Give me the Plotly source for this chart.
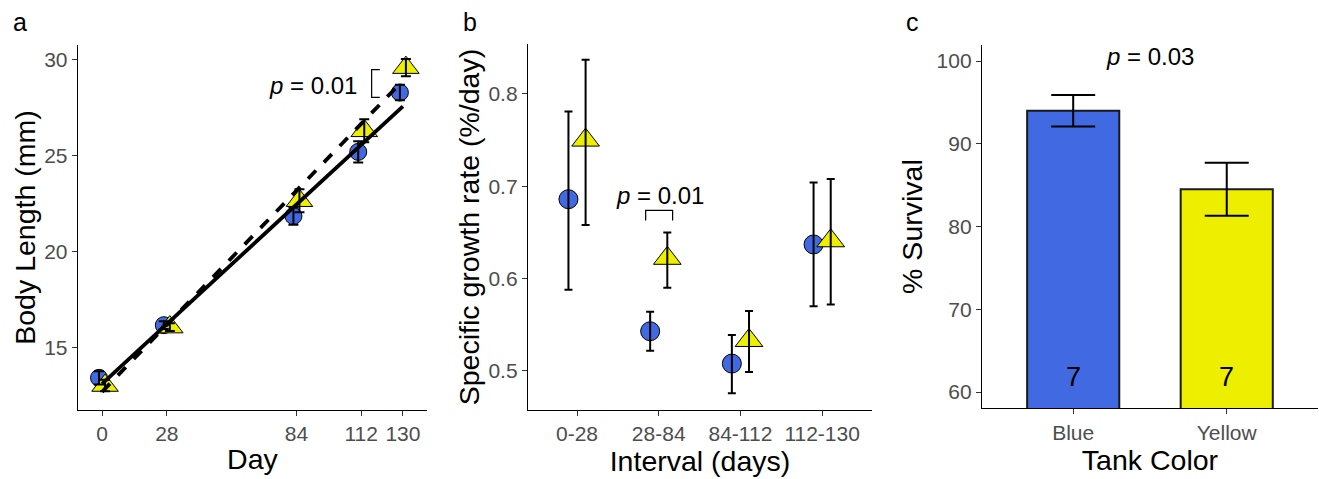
import numpy as np
import plotly.graph_objects as go

# ---------------- data ----------------
# Panel a: body length over time
days = [0, 28, 84, 112, 130]
blue_len = [13.4, 16.15, 21.85, 25.2, 28.3]
blue_len_se = [0.35, 0.2, 0.45, 0.55, 0.4]
yellow_len = [13.0, 16.05, 22.65, 26.3, 29.6]
yellow_len_se = [0.3, 0.2, 0.6, 0.6, 0.45]

# Panel b: specific growth rate per interval
intervals = ["0-28", "28-84", "84-112", "112-130"]
blue_sgr = [0.686, 0.543, 0.508, 0.637]
blue_sgr_lo = [0.588, 0.522, 0.476, 0.570]
blue_sgr_hi = [0.781, 0.564, 0.539, 0.704]
yellow_sgr = [0.750, 0.622, 0.533, 0.641]
yellow_sgr_lo = [0.658, 0.590, 0.499, 0.572]
yellow_sgr_hi = [0.837, 0.650, 0.565, 0.708]

# Panel c: survival
tank_colors = ["Blue", "Yellow"]
survival = [94.0, 84.5]
survival_se = [1.9, 3.2]
n_tanks = [7, 7]

# significance annotations
p_a, p_b, p_c = "0.01", "0.01", "0.03"

BLUE = "#4169E1"
YELLOW = "#EEEE00"
TICK_COL = "#4D4D4D"
FONT = "Liberation Sans, Arial, sans-serif"

fig = go.Figure()

# ---------------- panel a ----------------
dodge_a = 1.3
xb = [d - dodge_a for d in days]
xy = [d + dodge_a for d in days]
fig.add_trace(go.Scatter(x=xb, y=blue_len, mode="markers", xaxis="x", yaxis="y",
                         marker=dict(symbol="circle", size=17, color=BLUE,
                                     line=dict(color="black", width=1)), showlegend=False))
fig.add_trace(go.Scatter(x=xy, y=yellow_len, mode="markers", xaxis="x", yaxis="y",
                         marker=dict(symbol="triangle-up", size=23, color=YELLOW,
                                     line=dict(color="black", width=1)), showlegend=False))
for xs, ys, se in [(xb, blue_len, blue_len_se), (xy, yellow_len, yellow_len_se)]:
    fig.add_trace(go.Scatter(x=xs, y=ys, mode="markers", xaxis="x", yaxis="y",
                             marker=dict(color="rgba(0,0,0,0)", size=1),
                             error_y=dict(type="data", array=se, color="black",
                                          thickness=2, width=5), showlegend=False))
# linear fits
fit_x = np.array([min(days), max(days)])
bfit = np.polyfit(days, blue_len, 1)
yfit = np.polyfit(days, yellow_len, 1)
fig.add_trace(go.Scatter(x=fit_x, y=np.polyval(bfit, fit_x), mode="lines", xaxis="x", yaxis="y",
                         line=dict(color="black", width=3.8), showlegend=False))
fig.add_trace(go.Scatter(x=fit_x, y=np.polyval(yfit, fit_x), mode="lines", xaxis="x", yaxis="y",
                         line=dict(color="black", width=3.8, dash="dash"), showlegend=False))

# ---------------- panel b ----------------
dodge_b = 0.105
pos = np.arange(1, len(intervals) + 1)
bx = pos - dodge_b
yx = pos + dodge_b
fig.add_trace(go.Scatter(x=bx, y=blue_sgr, mode="markers", xaxis="x2", yaxis="y2",
                         marker=dict(symbol="circle", size=19, color=BLUE,
                                     line=dict(color="black", width=1)), showlegend=False))
fig.add_trace(go.Scatter(x=yx, y=yellow_sgr, mode="markers", xaxis="x2", yaxis="y2",
                         marker=dict(symbol="triangle-up", size=24, color=YELLOW,
                                     line=dict(color="black", width=1)), showlegend=False))
for xs, ys, lo, hi in [(bx, blue_sgr, blue_sgr_lo, blue_sgr_hi),
                       (yx, yellow_sgr, yellow_sgr_lo, yellow_sgr_hi)]:
    fig.add_trace(go.Scatter(x=xs, y=ys, mode="markers", xaxis="x2", yaxis="y2",
                             marker=dict(color="rgba(0,0,0,0)", size=1),
                             error_y=dict(type="data", symmetric=False,
                                          array=[h - v for h, v in zip(hi, ys)],
                                          arrayminus=[v - l for l, v in zip(lo, ys)],
                                          color="black", thickness=2, width=4),
                             showlegend=False))

# ---------------- panel c ----------------
cpos = [1, 2]
fig.add_trace(go.Bar(x=cpos, y=survival, width=0.6, xaxis="x3", yaxis="y3",
                     marker=dict(color=[BLUE, YELLOW], line=dict(color="#1a1a1a", width=2)),
                     showlegend=False))
fig.add_trace(go.Scatter(x=cpos, y=survival, mode="markers", xaxis="x3", yaxis="y3",
                         marker=dict(color="rgba(0,0,0,0)", size=1),
                         error_y=dict(type="data", array=survival_se, color="black",
                                      thickness=2, width=22), showlegend=False))

# ---------------- axes ----------------
def ax(domain, **kw):
    d = dict(domain=domain, showline=True, linecolor="black", linewidth=1.4,
             ticks="outside", ticklen=5, tickwidth=1.2, tickcolor="#333333",
             showgrid=False, zeroline=False, automargin=False,
             tickfont=dict(size=21, color=TICK_COL, family=FONT))
    d.update(kw)
    return d

title_font = dict(size=28.5, color="black", family=FONT)
fig.update_layout(
    xaxis=ax([0.0591, 0.3237], range=[-10.4, 140.4], tickvals=days, anchor="y",
             title=dict(text="Day", font=title_font, standoff=4)),
    yaxis=ax([0.144, 0.906], range=[11.72, 30.78], tickvals=[15, 20, 25, 30], anchor="x",
             title=dict(text="Body Length (mm)", font=title_font, standoff=0)),
    xaxis2=ax([0.4003, 0.6611], range=[0.4, 4.61], tickvals=list(pos), ticktext=intervals,
              anchor="y2", title=dict(text="Interval (days)", font=title_font, standoff=4)),
    yaxis2=ax([0.144, 0.908], range=[0.4577, 0.854], tickvals=[0.5, 0.6, 0.7, 0.8],
              tickformat=".1f", anchor="x2",
              title=dict(text="Specific growth rate (%/day)", font=title_font, standoff=0)),
    xaxis3=ax([0.7445, 0.9992], range=[0.406, 2.594], tickvals=cpos, ticktext=tank_colors,
              anchor="y3", title=dict(text="Tank Color", font=title_font, standoff=4)),
    yaxis3=ax([0.148, 0.906], range=[58.07, 101.93], tickvals=[60, 70, 80, 90, 100],
              anchor="x3", title=dict(text="% Survival", font=title_font, standoff=5)),
    margin=dict(l=0, r=0, t=0, b=0),
    width=1319, height=479,
    plot_bgcolor="white", paper_bgcolor="white",
    font=dict(family=FONT),
)

# significance brackets
bra_a_x = [116.5, 120]
bra_a_y = [28.05, 29.5]
bra_b_x = [1.84, 2.17]
bra_b_y = [0.663, 0.674]
shape_line = dict(color="black", width=1.2)
fig.add_shape(type="path", xref="x", yref="y", line=shape_line,
              path=f"M {bra_a_x[1]} {bra_a_y[1]} L {bra_a_x[0]} {bra_a_y[1]} "
                   f"L {bra_a_x[0]} {bra_a_y[0]} L {bra_a_x[1]} {bra_a_y[0]}")
fig.add_shape(type="path", xref="x2", yref="y2", line=shape_line,
              path=f"M {bra_b_x[0]} {bra_b_y[0]} L {bra_b_x[0]} {bra_b_y[1]} "
                   f"L {bra_b_x[1]} {bra_b_y[1]} L {bra_b_x[1]} {bra_b_y[0]}")

ann_font = dict(size=24, color="black", family=FONT)
fig.add_annotation(x=111, y=28.65, xref="x", yref="y", text=f"<i>p</i> = {p_a}",
                   showarrow=False, xanchor="right", yanchor="middle", font=ann_font)
fig.add_annotation(x=2.02, y=0.69, xref="x2", yref="y2", text=f"<i>p</i> = {p_b}",
                   showarrow=False, xanchor="center", yanchor="middle", font=ann_font)
fig.add_annotation(x=1.5, y=100.5, xref="x3", yref="y3", text=f"<i>p</i> = {p_c}",
                   showarrow=False, xanchor="center", yanchor="middle", font=ann_font)
for xc, n in zip(cpos, n_tanks):
    fig.add_annotation(x=xc, y=61.8, xref="x3", yref="y3", text=str(n), showarrow=False,
                       xanchor="center", yanchor="middle",
                       font=dict(size=27, color="black", family=FONT))

# panel letters
for letter, px in [("a", 20), ("b", 470), ("c", 912)]:
    fig.add_annotation(x=px / 1319, y=1 - 22 / 479, xref="paper", yref="paper", text=letter,
                       showarrow=False, xanchor="center", yanchor="middle",
                       font=dict(size=25, color="black", family=FONT))

fig.write_html("out.html", config={"displayModeBar": False},
               post_script="document.body.style.margin='0px';")
